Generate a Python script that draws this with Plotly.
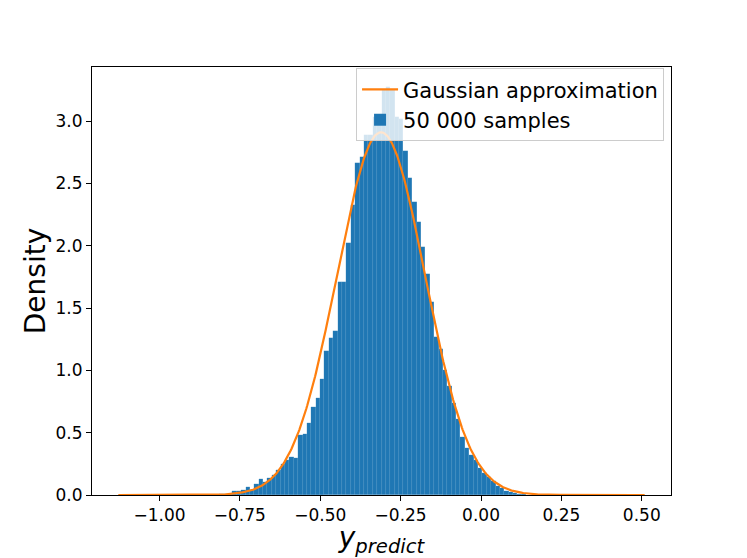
import numpy as np
import plotly.graph_objects as go

# ---- data ----
bin_lo = -1.128          # left edge of first bin
bin_hi = 0.509           # right edge of last bin
n_bins = 120
density = [
    0.0015, 0, 0, 0, 0, 0, 0, 0, 0, 0,
    0, 0, 0, 0, 0, 0.0015, 0, 0, 0.0015, 0.0015,
    0.003, 0.003, 0.003, 0.008, 0.005, 0.005, 0.032, 0.032, 0.040, 0.062,
    0.040, 0.088, 0.126, 0.107, 0.134, 0.160, 0.200, 0.246, 0.280, 0.305,
    0.300, 0.480, 0.490, 0.575, 0.703, 0.778, 0.930, 1.155, 1.257, 1.315,
    1.706, 1.706, 2.020, 2.330, 2.660, 2.710, 2.890, 2.890, 3.030, 3.030,
    3.250, 3.270, 3.250, 3.030, 3.020, 2.760, 2.540, 2.350, 2.190, 1.990,
    1.770, 1.550, 1.270, 1.170, 1.000, 0.874, 0.735, 0.610, 0.463, 0.374,
    0.320, 0.280, 0.217, 0.180, 0.147, 0.116, 0.076, 0.054, 0.035, 0.022,
    0.014, 0.010, 0.006, 0.004, 0.003, 0.0015, 0.0015, 0, 0.0015, 0,
    0, 0, 0, 0, 0, 0, 0, 0, 0, 0,
    0, 0, 0, 0, 0, 0, 0, 0, 0, 0.0015,
]
gauss_mean = -0.311
gauss_std = 0.1371

x_tickvals = [-1.00, -0.75, -0.50, -0.25, 0.00, 0.25, 0.50]
x_ticktext = ["\u22121.00", "\u22120.75", "\u22120.50", "\u22120.25", "0.00", "0.25", "0.50"]
y_tickvals = [0.0, 0.5, 1.0, 1.5, 2.0, 2.5, 3.0]
y_ticktext = ["0.0", "0.5", "1.0", "1.5", "2.0", "2.5", "3.0"]

# ---- derived ----
bw = (bin_hi - bin_lo) / n_bins
centers = bin_lo + bw * (np.arange(n_bins) + 0.5)
xs = np.linspace(bin_lo, bin_hi, 600)
pdf = np.exp(-0.5 * ((xs - gauss_mean) / gauss_std) ** 2) / (gauss_std * np.sqrt(2 * np.pi))

span = bin_hi - bin_lo
xr = [bin_lo - 0.05 * span, bin_hi + 0.05 * span]
yr = [0, max(density) * 1.05]

FONT = "DejaVu Sans"

fig = go.Figure()
fig.add_trace(go.Bar(
    x=centers, y=density, width=bw, name="50 000 samples",
    marker=dict(color="#1f77b4", line=dict(width=0.3, color="rgba(255,255,255,0.12)")),
))
fig.add_trace(go.Scatter(
    x=xs, y=pdf, mode="lines", name="Gaussian approximation",
    line=dict(color="#ff7f0e", width=2.2),
))

# page body has an 8px margin, so the figure is sized to fill the rest of the window
fig.update_layout(
    width=739, height=550,
    margin=dict(l=84, r=76, t=59, b=63, pad=0),
    paper_bgcolor="white", plot_bgcolor="white",
    font=dict(family=FONT, color="black", size=17),
    bargap=0,
    showlegend=True,
    legend=dict(
        x=0.988, y=0.997, xanchor="right", yanchor="top",
        bgcolor="rgba(255,255,255,0.8)", bordercolor="#cccccc", borderwidth=1,
        font=dict(size=21, family=FONT), traceorder="reversed",
        tracegroupgap=0, itemwidth=36,
    ),
)
fig.update_xaxes(
    range=xr, tickvals=x_tickvals, ticktext=x_ticktext, automargin=False,
    showline=True, linecolor="black", linewidth=1, mirror=True,
    ticks="outside", ticklen=5, tickwidth=1, tickcolor="black",
    showgrid=False, zeroline=False,
    tickfont=dict(size=17, family=FONT),
    title=dict(text="<i>y</i><sub><i>predict</i></sub>", font=dict(size=28, family=FONT), standoff=0),
)
fig.update_yaxes(
    range=yr, tickvals=y_tickvals, ticktext=y_ticktext, automargin=False,
    showline=True, linecolor="black", linewidth=1, mirror=True,
    ticks="outside", ticklen=5, tickwidth=1, tickcolor="black",
    showgrid=False, zeroline=False,
    tickfont=dict(size=17, family=FONT),
    title=dict(text="Density", font=dict(size=28, family=FONT), standoff=1),
)

fig.write_html("out.html")
